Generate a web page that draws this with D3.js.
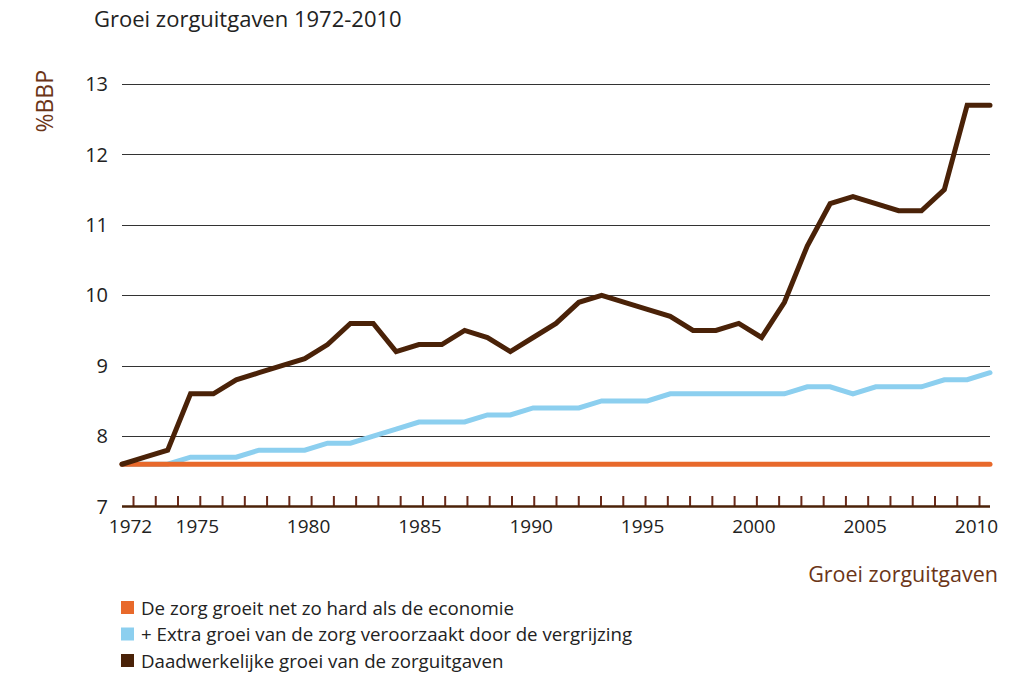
<!DOCTYPE html>
<html>
<head>
<meta charset="utf-8">
<script src="https://cdn.jsdelivr.net/npm/d3@7"></script>
<style>
  body { margin: 0; background: #fff; }
  svg { font-family: "Open Sans", "Noto Sans", sans-serif; }
</style>
</head>
<body>
<div id="chart"></div>
<script>
var width = 1018;
var height = 675;

// data
var years = d3.range(1972, 2011);
var economie = [7.6, 7.6, 7.6, 7.6, 7.6, 7.6, 7.6, 7.6, 7.6, 7.6,
  7.6, 7.6, 7.6, 7.6, 7.6, 7.6, 7.6, 7.6, 7.6, 7.6,
  7.6, 7.6, 7.6, 7.6, 7.6, 7.6, 7.6, 7.6, 7.6, 7.6,
  7.6, 7.6, 7.6, 7.6, 7.6, 7.6, 7.6, 7.6, 7.6];
var vergrijzing = [7.6, 7.6, 7.6, 7.7, 7.7, 7.7, 7.8, 7.8, 7.8, 7.9,
  7.9, 8.0, 8.1, 8.2, 8.2, 8.2, 8.3, 8.3, 8.4, 8.4,
  8.4, 8.5, 8.5, 8.5, 8.6, 8.6, 8.6, 8.6, 8.6, 8.6,
  8.7, 8.7, 8.6, 8.7, 8.7, 8.7, 8.8, 8.8, 8.9];
var daadwerkelijk = [7.6, 7.7, 7.8, 8.6, 8.6, 8.8, 8.9, 9.0, 9.1, 9.3,
  9.6, 9.6, 9.2, 9.3, 9.3, 9.5, 9.4, 9.2, 9.4, 9.6,
  9.9, 10.0, 9.9, 9.8, 9.7, 9.5, 9.5, 9.6, 9.4, 9.9,
  10.7, 11.3, 11.4, 11.3, 11.2, 11.2, 11.5, 12.7, 12.7];
var yTicks = [7, 8, 9, 10, 11, 12, 13];
var xLabels = [1972, 1975, 1980, 1985, 1990, 1995, 2000, 2005, 2010];
var legendLabels = ["De zorg groeit net zo hard als de economie",
  "+ Extra groei van de zorg veroorzaakt door de vergrijzing",
  "Daadwerkelijke groei van de zorguitgaven"];
var colors = ["#e8692b", "#8ccfef", "#4a2208"];

var svg = d3.select("#chart").append("svg")
  .attr("width", width)
  .attr("height", height);

var x = d3.scaleLinear().domain([1972, 2010]).range([122, 990]);
var xTick = d3.scaleLinear().domain([1972, 2010]).range([133, 979]);
var y = d3.scaleLinear().domain([7, 13]).range([506.5, 84]);

// title
svg.append("text")
  .attr("x", 94)
  .attr("y", 27)
  .style("font-size", "22px")
  .style("fill", "#222")
  .text("Groei zorguitgaven 1972-2010");

// y axis title
svg.append("text")
  .attr("text-anchor", "end")
  .attr("transform", "translate(53,70) rotate(-90)")
  .style("font-size", "23px")
  .style("fill", "#6b3517")
  .text("%BBP");

// gridlines
svg.selectAll(".grid")
  .data(yTicks.filter(function(d) { return d > 7; }))
  .enter().append("line")
  .attr("class", "grid")
  .attr("x1", 122)
  .attr("x2", 990)
  .attr("y1", function(d) { return Math.round(y(d)) + 0.5; })
  .attr("y2", function(d) { return Math.round(y(d)) + 0.5; })
  .style("stroke", "#333")
  .style("stroke-width", 1);

// y labels
svg.selectAll(".ylab")
  .data(yTicks)
  .enter().append("text")
  .attr("class", "ylab")
  .attr("x", 108)
  .attr("y", function(d) { return y(d); })
  .attr("dy", "0.36em")
  .attr("text-anchor", "end")
  .style("font-size", "20px")
  .style("fill", "#222")
  .text(function(d) { return d; });

// x axis with small ticks pointing up
var xAxis = d3.axisBottom(xTick)
  .tickValues(years)
  .tickSizeInner(-10)
  .tickSizeOuter(0)
  .tickPadding(14)
  .tickFormat(function(d) { return xLabels.indexOf(d) >= 0 ? d : ""; });

var gx = svg.append("g")
  .attr("transform", "translate(0," + 506 + ")")
  .call(xAxis);
gx.select(".domain").remove();
gx.selectAll(".tick line")
  .style("stroke", "#6b2a1a")
  .style("stroke-width", 2);
gx.selectAll(".tick text")
  .attr("x", -3)
  .style("font-size", "19px")
  .style("font-family", "'Open Sans', sans-serif")
  .style("fill", "#222");

svg.append("line")
  .attr("x1", 122)
  .attr("x2", 990)
  .attr("y1", 506.5)
  .attr("y2", 506.5)
  .style("stroke", "#4a2208")
  .style("stroke-width", 2.5);

// lines (blue under orange, brown on top)
var line = d3.line()
  .x(function(d, i) { return x(years[i]); })
  .y(function(d) { return y(d); });

var series = [
  {values: vergrijzing, color: colors[1]},
  {values: economie, color: colors[0]},
  {values: daadwerkelijk, color: colors[2]}
];
svg.selectAll(".serie")
  .data(series)
  .enter().append("path")
  .attr("class", "serie")
  .attr("d", function(d) { return line(d.values); })
  .style("fill", "none")
  .style("stroke", function(d) { return d.color; })
  .style("stroke-width", 5)
  .style("stroke-linejoin", "miter")
  .style("stroke-linecap", "round");

// x axis title
svg.append("text")
  .attr("x", 998)
  .attr("y", 582)
  .attr("text-anchor", "end")
  .style("font-size", "21.5px")
  .style("fill", "#6b3517")
  .text("Groei zorguitgaven");

// legend
var legend = svg.selectAll(".legend")
  .data(legendLabels)
  .enter().append("g")
  .attr("class", "legend")
  .attr("transform", function(d, i) { return "translate(121," + (601 + i * 26.5) + ")"; });

legend.append("rect")
  .attr("width", 13)
  .attr("height", 13)
  .style("fill", function(d, i) { return colors[i]; });

legend.append("text")
  .attr("x", 20)
  .attr("y", 7)
  .attr("dy", "0.35em")
  .style("font-size", "18.7px")
  .style("fill", "#222")
  .text(function(d) { return d; });
</script>
</body>
</html>
